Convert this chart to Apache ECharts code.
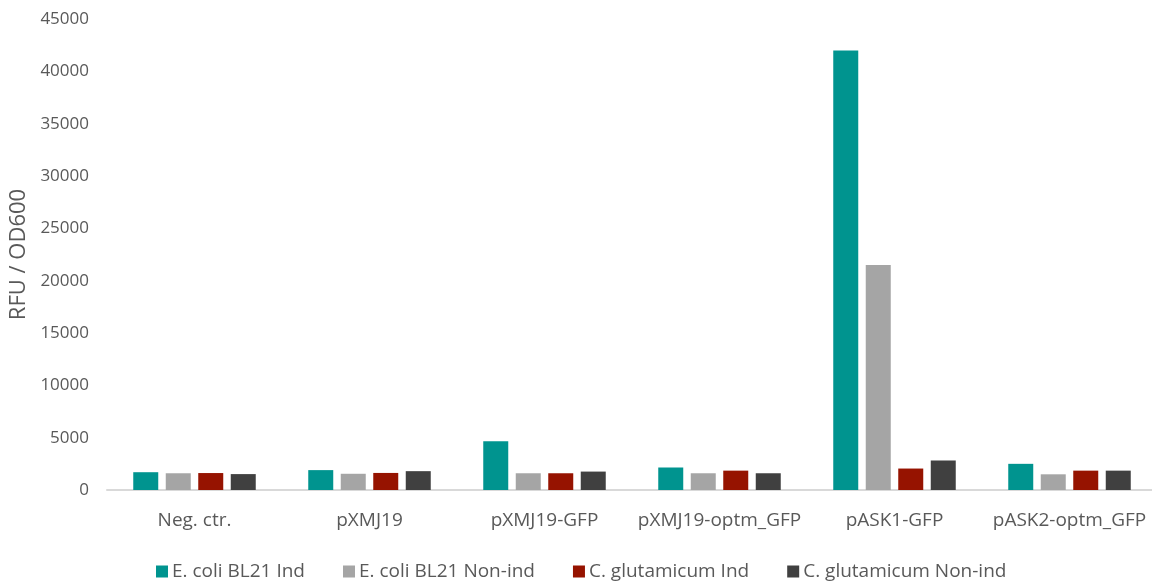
<!DOCTYPE html>
<html>
<head>
<meta charset="utf-8">
<script src="https://cdn.jsdelivr.net/npm/echarts@6/dist/echarts.min.js"></script>
<style>
  html, body { margin: 0; padding: 0; background: #fff; }
  #chart { width: 1152px; height: 581px; }
</style>
</head>
<body>
<div id="chart"></div>
<script>
// Plasmid constructs on the x axis
const categories = ['Neg. ctr.', 'pXMJ19', 'pXMJ19-GFP', 'pXMJ19-optm_GFP', 'pASK1-GFP', 'pASK2-optm_GFP'];

// Fluorescence normalised to cell density (RFU / OD600)
const ecoliInd     = [1700, 1900, 4650, 2150, 42000, 2500];
const ecoliNonInd  = [1600, 1550, 1600, 1600, 21500, 1500];
const cgluInd      = [1620, 1630, 1600, 1850, 2050, 1850];
const cgluNonInd   = [1520, 1800, 1760, 1600, 2820, 1850];

const yTicks = { min: 0, max: 45000, interval: 5000 };

const seriesNames = ['E. coli BL21 Ind', 'E. coli BL21 Non-ind', 'C. glutamicum Ind', 'C. glutamicum Non-ind'];
const seriesData = [ecoliInd, ecoliNonInd, cgluInd, cgluNonInd];
const colors = ['#00948f', '#a5a5a5', '#961300', '#404040'];

const font = 'Open Sans';
const textColor = '#595959';

const chart = echarts.init(document.getElementById('chart'), null, { renderer: 'canvas' });
chart.setOption({
  animation: false,
  color: colors,
  textStyle: { fontFamily: font },
  grid: { left: 107, top: 19, width: 1050, bottom: 91, containLabel: false, outerBoundsMode: 'none' },
  legend: {
    top: 557,
    left: 151,
    itemWidth: 12,
    itemHeight: 12,
    itemGap: 38,
    icon: 'rect',
    textStyle: { color: textColor, fontSize: 19, fontFamily: font, padding: [0, 0, 0, -1] },
    data: seriesNames
  },
  xAxis: {
    type: 'category',
    data: categories,
    axisLine: { lineStyle: { color: '#d9d9d9', width: 2 } },
    axisTick: { show: false },
    axisLabel: { color: textColor, fontSize: 19, margin: 21, interval: 0 }
  },
  yAxis: {
    type: 'value',
    min: yTicks.min,
    max: yTicks.max,
    interval: yTicks.interval,
    name: 'RFU / OD600',
    nameLocation: 'middle',
    nameGap: 75,
    nameTextStyle: { color: textColor, fontSize: 22 },
    axisLine: { show: false },
    axisTick: { show: false },
    splitLine: { show: false },
    axisLabel: { color: textColor, fontSize: 17, margin: 18, formatter: v => String(v) }
  },
  series: seriesData.map((d, i) => ({
    name: seriesNames[i],
    type: 'bar',
    data: d,
    barWidth: 25,
    barGap: '30%',
    itemStyle: { color: colors[i] }
  }))
});
</script>
</body>
</html>
